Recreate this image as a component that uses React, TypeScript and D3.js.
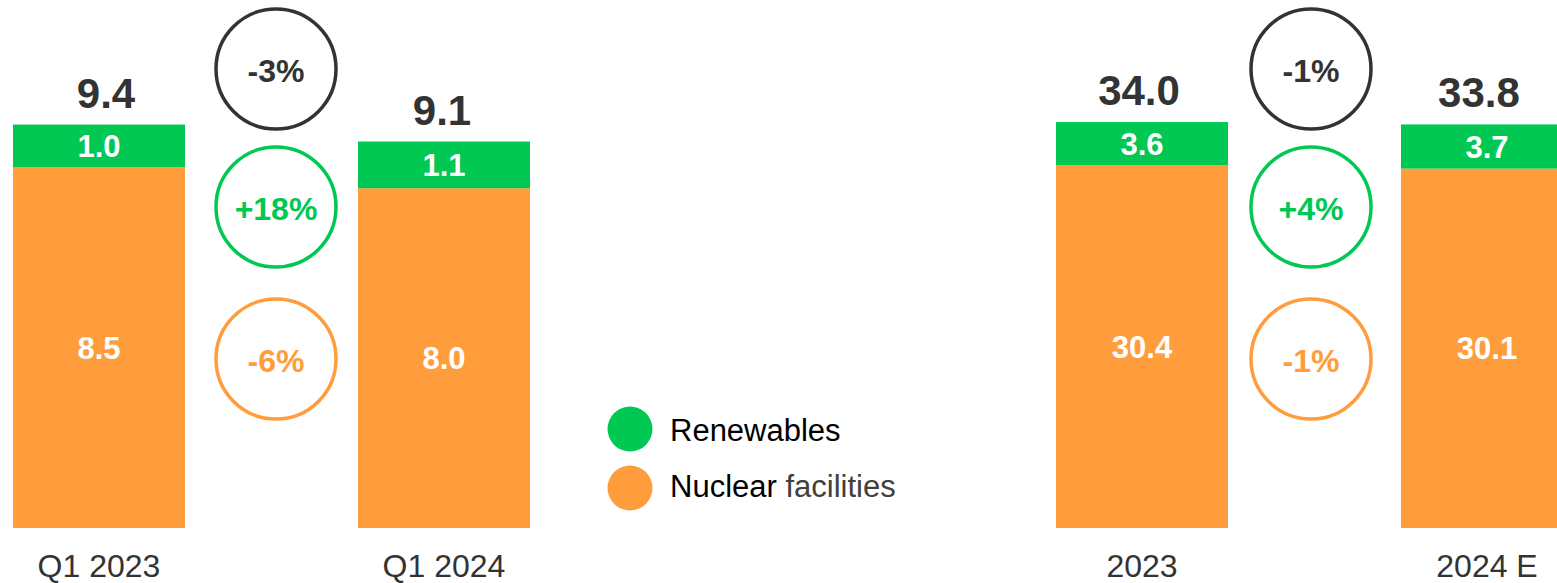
import React from "react";
import * as d3 from "d3";

const leftCategories = ["Q1 2023", "Q1 2024"];
const leftRenewables = [1.0, 1.1];
const leftNuclear = [8.5, 8.0];
const leftTotals = [9.4, 9.1];
const leftChanges = ["-3%", "+18%", "-6%"];

const rightCategories = ["2023", "2024 E"];
const rightRenewables = [3.6, 3.7];
const rightNuclear = [30.4, 30.1];
const rightTotals = [34.0, 33.8];
const rightChanges = ["-1%", "+4%", "-1%"];

const legendLabels = ["Renewables", "Nuclear", "facilities"];

const GREEN = "#00C853";
const ORANGE = "#FF9D3C";
const DARK = "#333333";
const FONT = "'Liberation Sans', Arial, sans-serif";

const W = 1557;
const H = 583;
const BASE = 528;

type PanelProps = {
  cats: string[];
  ren: number[];
  nuc: number[];
  tot: number[];
  changes: string[];
  xRange: [number, number];
  pxPerUnit: number;
  circleX: number;
  totalDx: number[];
};

function Panel(p: PanelProps) {
  const x = d3.scaleBand<string>().domain(p.cats).range(p.xRange).paddingInner(0.5014).paddingOuter(0);
  const maxStack = d3.max(p.cats.map((_, i) => p.ren[i] + p.nuc[i]))!;
  const y = d3.scaleLinear().domain([0, maxStack]).range([BASE, BASE - maxStack * p.pxPerUnit]);
  const bw = x.bandwidth();
  const circleYs = [69, 207, 359];
  const circleColors = [DARK, GREEN, ORANGE];
  return (
    <g>
      {p.cats.map((c, i) => {
        const x0 = x(c)!;
        const cx = x0 + bw / 2;
        const yN = y(p.nuc[i]);
        const yT = y(p.nuc[i] + p.ren[i]);
        return (
          <g key={c}>
            <rect x={x0} y={yN} width={bw} height={BASE - yN} fill={ORANGE} />
            <rect x={x0} y={yT} width={bw} height={yN - yT} fill={GREEN} />
            <text x={cx} y={(yN + BASE) / 2 + 11} textAnchor="middle" fill="#fff" fontWeight="bold" fontSize={31} fontFamily={FONT}>
              {d3.format(".1f")(p.nuc[i])}
            </text>
            <text x={cx} y={(yT + yN) / 2 + 11} textAnchor="middle" fill="#fff" fontWeight="bold" fontSize={31} fontFamily={FONT}>
              {d3.format(".1f")(p.ren[i])}
            </text>
            <text x={cx + p.totalDx[i]} y={yT - 17} textAnchor="middle" fill={DARK} fontWeight="bold" fontSize={42} fontFamily={FONT}>
              {d3.format(".1f")(p.tot[i])}
            </text>
            <text x={cx} y={577} textAnchor="middle" fill={DARK} fontSize={32} fontFamily={FONT}>
              {c}
            </text>
          </g>
        );
      })}
      {p.changes.map((ch, i) => (
        <g key={i}>
          <circle cx={p.circleX} cy={circleYs[i]} r={60} fill="none" stroke={circleColors[i]} strokeWidth={3.5} />
          <text x={p.circleX} y={circleYs[i] + 12.5} textAnchor="middle" fill={circleColors[i]} fontWeight="bold" fontSize={32} fontFamily={FONT}>
            {ch}
          </text>
        </g>
      ))}
    </g>
  );
}

export default function App() {
  return (
    <svg width={W} height={H} style={{ position: "absolute", left: 0, top: 0, background: "#fff" }}>
      <Panel
        cats={leftCategories}
        ren={leftRenewables}
        nuc={leftNuclear}
        tot={leftTotals}
        changes={leftChanges}
        xRange={[13, 530]}
        pxPerUnit={42.47}
        circleX={276}
        totalDx={[7, -2]}
      />
      <Panel
        cats={rightCategories}
        ren={rightRenewables}
        nuc={rightNuclear}
        tot={rightTotals}
        changes={rightChanges}
        xRange={[1056, 1573]}
        pxPerUnit={11.94}
        circleX={1311}
        totalDx={[-3, -8]}
      />
      <g fontFamily={FONT} fontSize={31}>
        <circle cx={630} cy={429} r={22.5} fill={GREEN} />
        <text x={670} y={441} fill="#000">{legendLabels[0]}</text>
        <circle cx={630} cy={488} r={22.5} fill={ORANGE} />
        <text x={670} y={497} fill="#000">
          {legendLabels[1]}
          <tspan fill="#404040"> {legendLabels[2]}</tspan>
        </text>
      </g>
    </svg>
  );
}
